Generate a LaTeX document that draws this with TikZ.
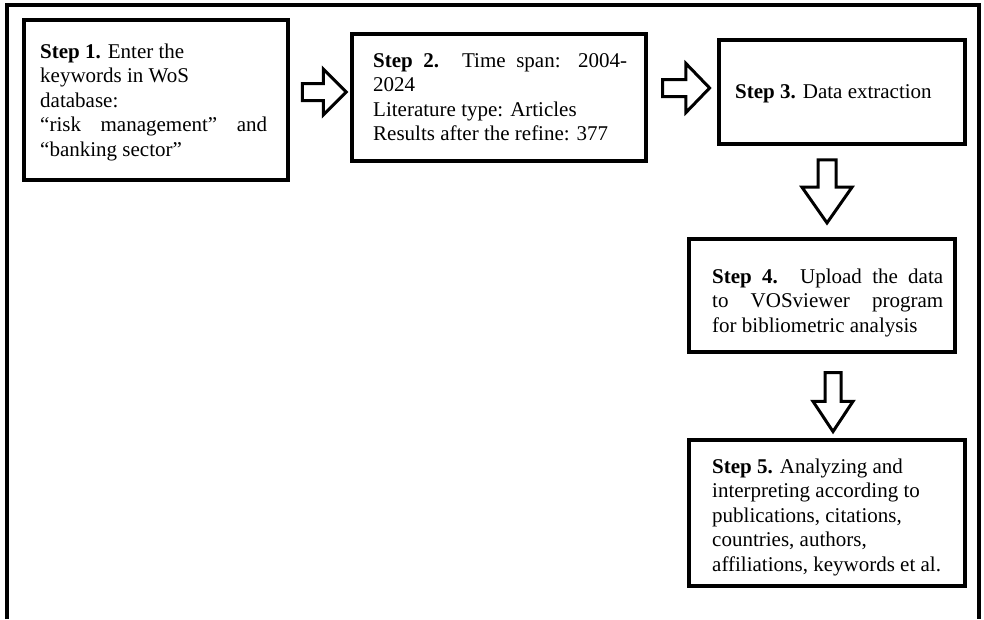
\documentclass[tikz,border=0pt]{standalone}
\usepackage{fontspec}
\setmainfont{Liberation Serif}
\usetikzlibrary{shapes.arrows}
\begin{document}
\begin{tikzpicture}[x=1pt,y=-1pt,
  stepbox/.style={draw, line width=4pt, rectangle, inner sep=0pt},
  steptext/.style={anchor=base west, inner sep=0pt, font=\fontsize{21}{24.6}\selectfont},
  blockarrow/.style={single arrow, draw, line width=3pt, fill=white, inner xsep=0pt,
    text height=0pt, text depth=0pt, text width=0pt}]
\useasboundingbox (0,0) rectangle (984,619);
% outer frame (open at the bottom)
\draw[line width=4pt] (6.5,619) -- (6.5,5) -- (979,5) -- (979,619);
% boxes
\node[stepbox, minimum width=264pt, minimum height=160pt] (b1) at (156,100) {};
\node[stepbox, minimum width=294pt, minimum height=127pt] (b2) at (499,97.5) {};
\node[stepbox, minimum width=246pt, minimum height=104pt] (b3) at (842,92) {};
\node[stepbox, minimum width=266pt, minimum height=113pt] (b4) at (822,295.5) {};
\node[stepbox, minimum width=276pt, minimum height=146pt] (b5) at (827,513) {};
% texts
\node[steptext] (t1) at (40,58) {\parbox[t]{240pt}{\textbf{Step 1.} Enter the\\
keywords in WoS\\
database:\\
\makebox[227pt][s]{“risk management” and}\\
“banking sector”}};
\node[steptext] (t2) at (373,67) {\parbox[t]{260pt}{\makebox[254pt][s]{\textbf{Step 2.} Time span: 2004-}\\
2024\\
Literature type: Articles\\
Results after the refine: 377}};
\node[steptext] (t3) at (735,98) {\textbf{Step 3.} Data extraction};
\node[steptext] (t4) at (712,283) {\parbox[t]{240pt}{\makebox[231pt][s]{\textbf{Step 4.} Upload the data}\\
\makebox[231pt][s]{to VOSviewer program}\\
for bibliometric analysis}};
\node[steptext] (t5) at (712,473) {\parbox[t]{250pt}{\textbf{Step 5.} Analyzing and\\
interpreting according to\\
publications, citations,\\
countries, authors,\\
affiliations, keywords et al.}};
% block arrows
\node[blockarrow, inner ysep=7pt, minimum height=44pt, single arrow head extend=14.5pt,
  single arrow tip angle=90] (a12) at (320,92) {};
\node[blockarrow, inner ysep=7pt, minimum height=47pt, single arrow head extend=16pt,
  single arrow tip angle=92] (a23) at (682,88) {};
\node[blockarrow, rotate=-90, inner ysep=7.5pt, minimum height=63pt, single arrow head extend=16pt,
  single arrow tip angle=70] (a34) at (827,185) {};
\node[blockarrow, rotate=-90, inner ysep=6.5pt, minimum height=59pt, single arrow head extend=12pt,
  single arrow tip angle=67] (a45) at (833,396) {};
\end{tikzpicture}
\end{document}
